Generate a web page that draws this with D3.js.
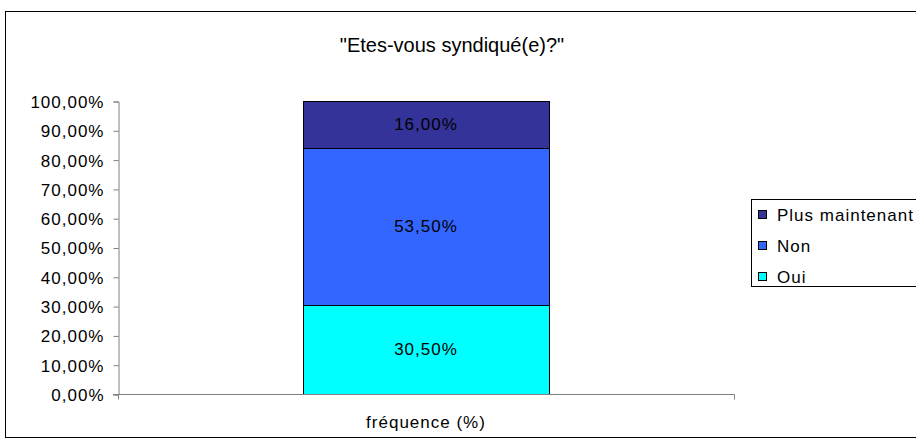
<!DOCTYPE html>
<html>
<meta charset="utf-8">
<head>
<script src="https://d3js.org/d3.v7.min.js"></script>
<style>
body { margin: 0; background: #fff; }
svg text { font-family: "Liberation Sans", Arial, sans-serif; fill: #000; }
.wide { letter-spacing: 1px; }
</style>
</head>
<body>
<script>
// data
var categories = ["fréquence (%)"];
var seriesNames = ["Oui", "Non", "Plus maintenant"];
var seriesValues = [30.5, 53.5, 16.0];
var seriesColors = ["#00FFFF", "#3366FF", "#333399"];
var yTicks = [0, 10, 20, 30, 40, 50, 60, 70, 80, 90, 100];

var width = 916, height = 448;
var plot = {left: 118, right: 734, top: 101, bottom: 394};

var svg = d3.select("body").append("svg")
  .attr("width", width)
  .attr("height", height);

// outer chart frame
svg.append("rect")
  .attr("x", 5.5).attr("y", 11.5)
  .attr("width", 930).attr("height", 426)
  .attr("fill", "#fff").attr("stroke", "#000");

svg.append("text")
  .attr("x", 452).attr("y", 52)
  .attr("text-anchor", "middle")
  .style("font-size", "20px")
  .text("\"Etes-vous syndiqué(e)?\"");

var y = d3.scaleLinear().domain([0, 100]).range([plot.bottom, plot.top]);
var x = d3.scaleBand().domain(categories).range([plot.left, plot.right]).paddingInner(0).paddingOuter(0.752);

var fmt = function(v){ return d3.format(".2f")(v).replace(".", ",") + "%"; };

// y axis
var yAxis = svg.append("g")
  .attr("transform", "translate(" + (plot.left + 0.5) + ",0.5)")
  .call(d3.axisLeft(y).tickValues(yTicks).tickSize(5).tickPadding(9).tickFormat(fmt));
yAxis.select(".domain").attr("stroke", "#808080");
yAxis.selectAll(".tick line").attr("stroke", "#808080");
yAxis.selectAll("text").attr("class", "wide").style("font-size", "17px").attr("dy", "0.35em");

// stacked bar
var stack = [];
var acc = 0;
seriesValues.forEach(function(v, i){
  stack.push({name: seriesNames[i], v0: acc, v1: acc + v, color: seriesColors[i]});
  acc += v;
});

svg.append("g").selectAll("rect")
  .data(stack)
  .enter().append("rect")
  .attr("x", Math.round(x(categories[0])) + 0.5)
  .attr("width", Math.round(x.bandwidth()))
  .attr("y", function(d){ return Math.round(y(d.v1)) + 0.5; })
  .attr("height", function(d){ return Math.round(y(d.v0)) - Math.round(y(d.v1)); })
  .attr("fill", function(d){ return d.color; })
  .attr("stroke", "#000");

svg.append("g").selectAll("text")
  .data(stack)
  .enter().append("text")
  .attr("class", "wide")
  .attr("x", x(categories[0]) + x.bandwidth() / 2)
  .attr("y", function(d){ return (y(d.v0) + y(d.v1)) / 2; })
  .attr("dy", "0.35em")
  .attr("text-anchor", "middle")
  .style("font-size", "17px")
  .text(function(d){ return fmt(d.v1 - d.v0); });

// x axis
var xAxis = svg.append("g")
  .attr("transform", "translate(0," + (plot.bottom + 0.5) + ")");
xAxis.append("line")
  .attr("x1", plot.left - 5).attr("x2", plot.right + 0.5)
  .attr("stroke", "#808080");
xAxis.append("line")
  .attr("x1", plot.left + 0.5).attr("x2", plot.left + 0.5)
  .attr("y1", 0).attr("y2", 5).attr("stroke", "#808080");
xAxis.append("line")
  .attr("x1", plot.right + 0.5).attr("x2", plot.right + 0.5)
  .attr("y1", 0).attr("y2", 5).attr("stroke", "#808080");
xAxis.append("text")
  .attr("class", "wide")
  .attr("x", x(categories[0]) + x.bandwidth() / 2)
  .attr("y", 33)
  .attr("text-anchor", "middle")
  .style("font-size", "17px")
  .text(categories[0]);

// legend
var legend = svg.append("g").attr("transform", "translate(751,199)");
legend.append("rect")
  .attr("x", 0.5).attr("y", 0.5)
  .attr("width", 200).attr("height", 87)
  .attr("fill", "#fff").attr("stroke", "#000");

var legendItems = stack.slice().reverse();
var li = legend.selectAll("g.item")
  .data(legendItems)
  .enter().append("g")
  .attr("class", "item")
  .attr("transform", function(d, i){ return "translate(0," + (16 + i * 31) + ")"; });
li.append("rect")
  .attr("x", 7.5).attr("y", -4.5)
  .attr("width", 8).attr("height", 8)
  .attr("fill", function(d){ return d.color; })
  .attr("stroke", "#000");
li.append("text")
  .attr("class", "wide")
  .attr("x", 26).attr("y", 0)
  .attr("dy", "0.35em")
  .style("font-size", "17px")
  .text(function(d){ return d.name; });
</script>
</body>
</html>
